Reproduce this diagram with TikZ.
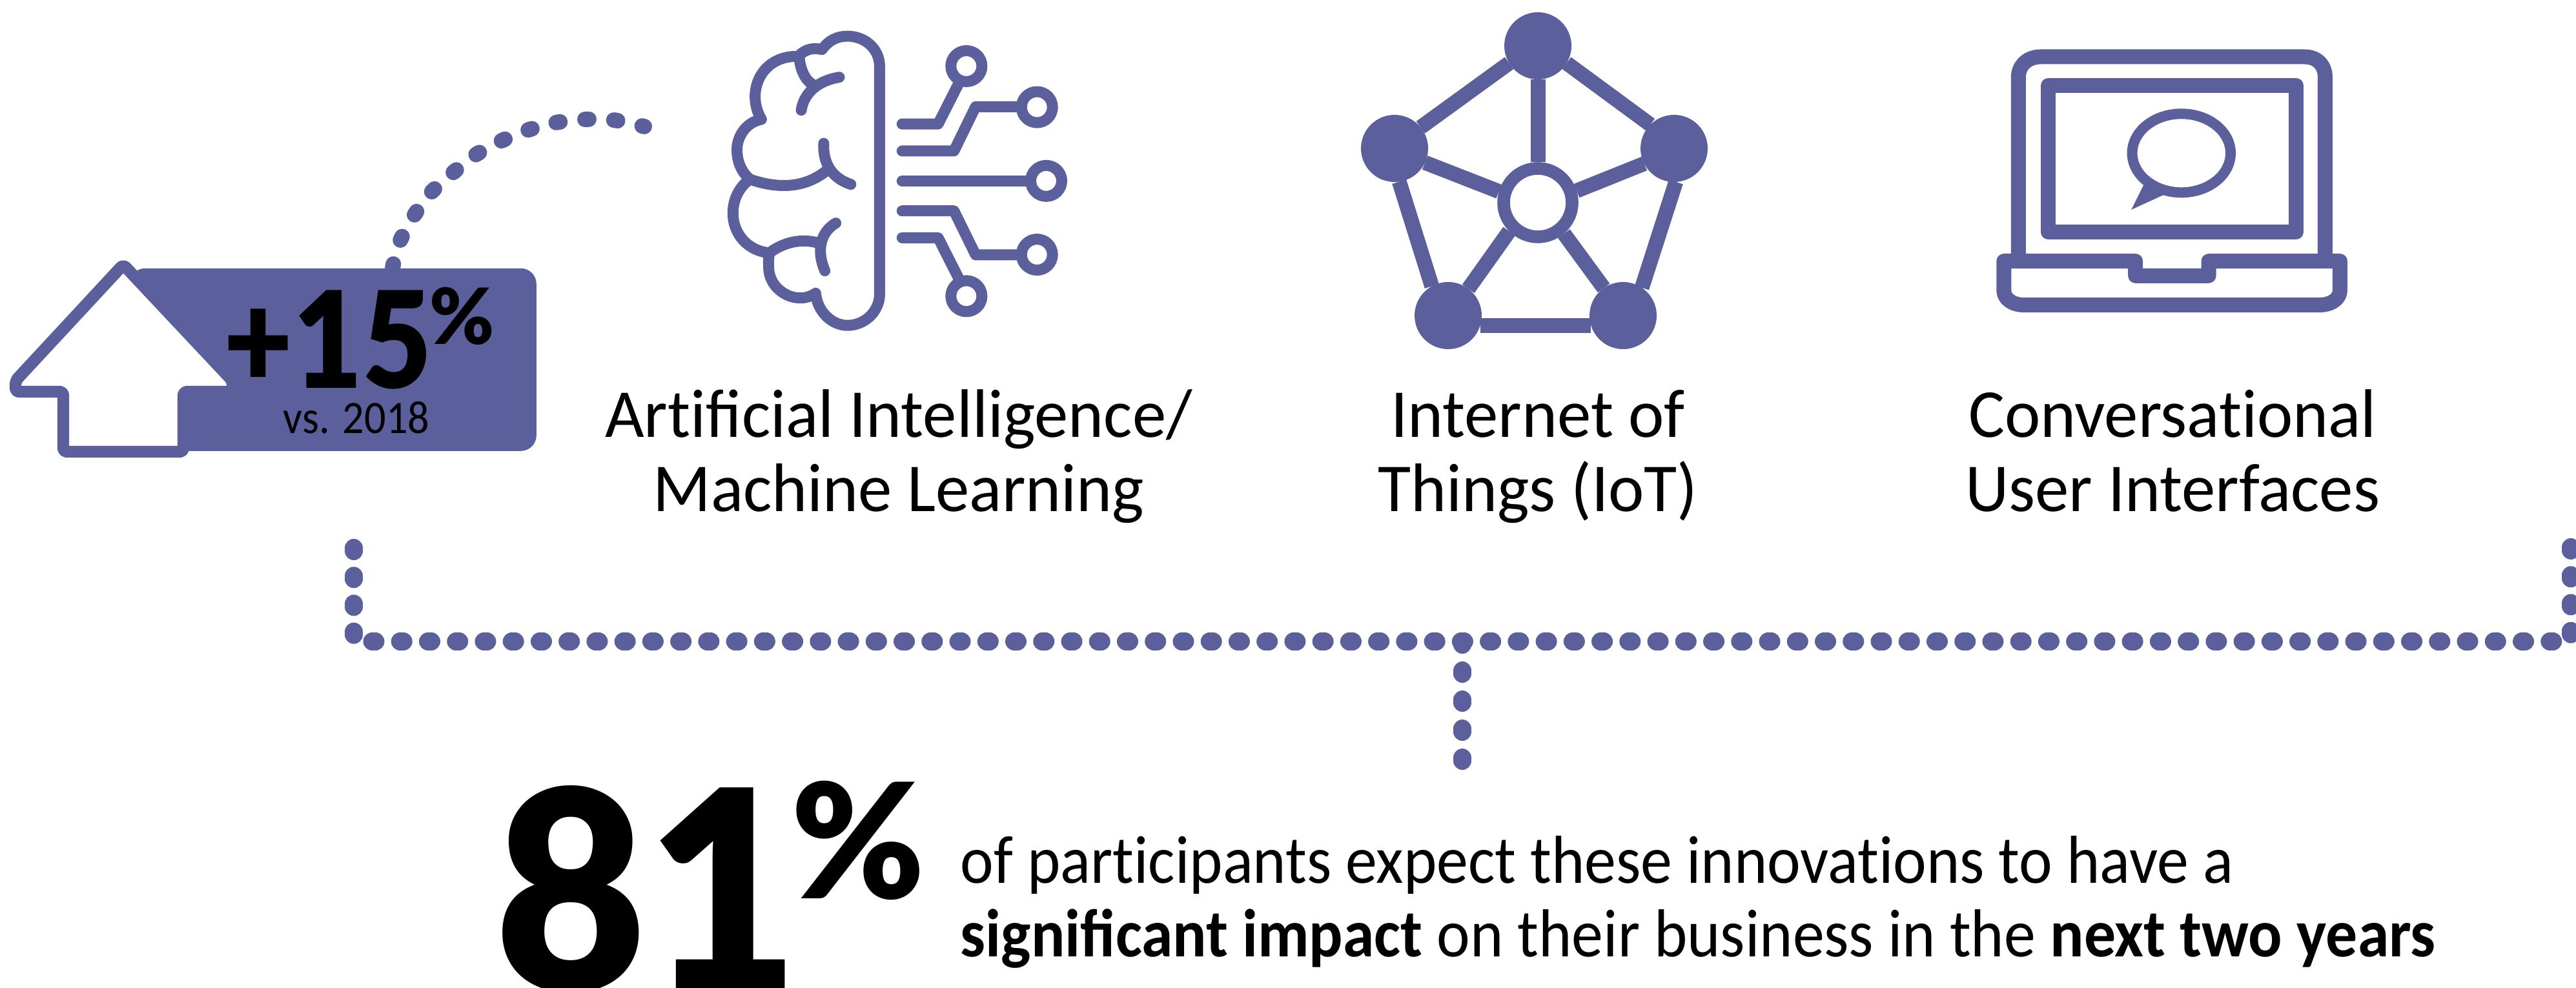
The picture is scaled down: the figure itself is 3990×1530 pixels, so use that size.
\documentclass[tikz,border=0pt]{standalone}
\usepackage{fontspec}
\setmainfont{Carlito}
\newfontfamily\labelfont[FakeStretch=0.985]{Carlito}
\newfontfamily\bodyfont[FakeStretch=0.93]{Carlito}
\newfontfamily\smallfont[FakeStretch=0.92]{Carlito}
\newfontfamily\latoblack{Lato Black}
\newfontfamily\latoblacknarrow[FakeStretch=0.89]{Lato Black}
\newfontfamily\latoblackbig[FakeStretch=0.94]{Lato Black}
\newcommand{\tiplain}{t\kern0pt i}
\definecolor{iris}{HTML}{5B5F9B}
\tikzset{
  iconline/.style={draw=iris,line width=4.25pt,line cap=round,line join=round},
  wire/.style={iconline},
  pin/.style={draw=iris,line width=4.25pt,fill=white},
  dotrow/.style={draw=iris,line width=7pt,line cap=round,dash pattern=on 1.25pt off 9.56pt},
  dotstem/.style={draw=iris,line width=7pt,line cap=round,dash pattern=on 1.25pt off 10pt},
  dotarc/.style={draw=iris,line width=6pt,line cap=round,dash pattern=on 1.5pt off 9.7pt},
  hub/.style={circle,fill=iris,minimum size=26pt,inner sep=0pt,outer sep=0pt},
  core/.style={circle,draw=iris,fill=white,line width=4.9pt,minimum size=26.5pt,inner sep=0pt},
  spoke/.style={draw=iris,line width=5.75pt},
  lapline/.style={draw=iris,line width=5.75pt,line join=round},
  label/.style={font=\labelfont\fontsize{26.6}{28.75}\selectfont,align=center,inner sep=0pt,anchor=base},
  bodytext/.style={font=\bodyfont\fontsize{26.3}{28.5}\selectfont,align=left,inner sep=0pt,anchor=base west},
}
\begin{document}
\begin{tikzpicture}[x=0.25pt,y=-0.25pt]
\useasboundingbox (0,0) rectangle (3990,1530);
\clip (0,0) rectangle (3990,1530);

% dotted arc into the box
\coordinate (arcstart) at (608,415);
\coordinate (arcend) at (998,196);
\draw[dotarc] plot[smooth] coordinates {(arcstart) (618,377) (640,336) (666,300) (700,269) (735,241) (775,219) (816,202) (861,190) (906,185) (950,186) (arcend)};

% badge and arrow
\node[fill=iris,rounded corners=6pt,minimum width=157.5pt,minimum height=70.75pt,inner sep=0pt,anchor=north west] (badge) at (200,415) {};
\draw[draw=iris,fill=white,line width=4.6pt,line join=round,rounded corners=1.5pt]
  (191,410) -- (24,590) -- (24,607) -- (98,607) -- (98,700) -- (284,700) -- (284,607) -- (360,607) -- (360,590) -- cycle;
\node[inner sep=0pt,anchor=base west,font=\latoblacknarrow\fontsize{52}{52}\selectfont] (plus) at (346,601) {+15};
\node[inner sep=0pt,anchor=base west,font=\latoblack\fontsize{30}{30}\selectfont] (pct) at (665,533) {\%};
\node[inner sep=0pt,anchor=base,font=\smallfont\fontsize{18}{18}\selectfont] (vs) at (552,671) {vs. 2018};

% brain
\begin{scope}[shift={(1000,0)},xscale=0.4464,yscale=0.3571]
\draw[iconline] (812,1275) -- (812,290) .. controls (812,210) and (760,157) .. (700,157) .. controls (665,157) and (635,175) .. (612,215)
  .. controls (580,205) and (550,215) .. (530,245) .. controls (440,240) and (380,320) .. (380,420) .. controls (380,455) and (388,490) .. (402,518)
  .. controls (350,530) and (317,590) .. (317,650) .. controls (317,705) and (335,750) .. (362,778)
  .. controls (325,810) and (303,865) .. (303,925) .. controls (303,1015) and (355,1090) .. (430,1097)
  .. controls (425,1125) and (427,1145) .. (427,1160) .. controls (427,1235) and (480,1293) .. (537,1293) .. controls (557,1293) and (575,1285) .. (590,1272)
  .. controls (595,1350) and (645,1412) .. (700,1412) .. controls (762,1412) and (812,1350) .. (812,1275);
\draw[iconline] (533,245) .. controls (535,300) and (555,350) .. (578,365);
\draw[iconline] (672,335) .. controls (600,350) and (550,400) .. (540,478);
\draw[iconline] (618,622) .. controls (615,700) and (640,770) .. (712,800);
\draw[iconline] (362,778) .. controls (470,825) and (560,810) .. (628,740);
\draw[iconline] (660,968) .. controls (610,1005) and (590,1080) .. (622,1175);
\draw[iconline] (430,1097) .. controls (480,1050) and (540,1035) .. (595,1053);
\draw[wire] (890,538) -- (1015,538) -- (1085,365);
\draw[wire] (890,655) -- (1070,655) -- (1145,463) -- (1300,463);
\draw[wire] (890,785) -- (1330,785);
\draw[wire] (890,915) -- (1070,915) -- (1145,1106) -- (1300,1106);
\draw[wire] (890,1032) -- (1015,1032) -- (1085,1205);
\draw[pin] (1113,287) ellipse [x radius=53.8,y radius=67.2];
\draw[pin] (1358,465) ellipse [x radius=53.8,y radius=67.2];
\draw[pin] (1390,785) ellipse [x radius=53.8,y radius=67.2];
\draw[pin] (1358,1105) ellipse [x radius=53.8,y radius=67.2];
\draw[pin] (1113,1285) ellipse [x radius=53.8,y radius=67.2];
\end{scope}
\node[label] (ai) at (1392,792) {Ar\tiplain ficial Intelligence/\\Machine Learning};

% network
\node[hub] (nT) at (2382,71) {};
\node[hub] (nL) at (2160,230) {};
\node[hub] (nR) at (2593,230) {};
\node[hub] (nA) at (2243,489) {};
\node[hub] (nB) at (2514,489) {};
\node[core] (nC) at (2382,314) {};
\draw[spoke] (nT) -- (nC);
\draw[spoke] (nL.39) -- (nT.211);
\draw[spoke] (nR.135) -- (nT.-31);
\draw[spoke] (nL.-25) -- (nC.164);
\draw[spoke] (nR.207) -- (nC.17);
\draw[spoke] (nC.225) -- (nA.53);
\draw[spoke] (nC.310) -- (nB.125);
\draw[spoke] (nL.-82) -- (nA.119);
\draw[spoke] (nR.-87) -- (nB.56);
\draw[spoke] (nA.-17) -- (nB.197);
\node[label] (iot) at (2382,792) {Internet of\\Things (IoT)};

% laptop
\begin{scope}[shift={(3000,40)},xscale=0.4591,yscale=0.3333]
\draw[lapline] (275,1095) -- (275,240) .. controls (275,185) and (305,144) .. (350,144) -- (1240,144) .. controls (1285,144) and (1310,185) .. (1310,240) -- (1310,1095);
\draw[lapline] (375,279) rectangle (1212,958);
\draw[lapline] (226,1094) -- (670,1094) -- (670,1162) -- (917,1162) -- (917,1094) -- (1360,1094) -- (1360,1230) .. controls (1360,1270) and (1330,1298) .. (1290,1298) -- (295,1298) .. controls (255,1298) and (226,1270) .. (226,1230) -- cycle;
\draw[draw=iris,line width=4pt] (825,592) ellipse [x radius=166,y radius=183];
\fill[iris] (697,742) -- (656,855) -- (762,788) -- (770,745) -- (732,755) -- (718,700) -- cycle;
\end{scope}
\node[label] (cui) at (3365,792) {Conversa\tiplain onal\\User Interfaces};

% dotted bracket
\coordinate (lt) at (548,849);
\coordinate (lb) at (548,985);
\coordinate (rt) at (3982,848);
\coordinate (rb) at (3982,985);
\coordinate (hl) at (576.5,994);
\coordinate (hr) at (3956,994);
\coordinate (st) at (2265,994);
\coordinate (sb) at (2265,1180);
\draw[dotrow] (lt) -- (lb);
\draw[dotrow] (rt) -- (rb);
\draw[dotrow] (hl) -- (hr);
\draw[dotstem] (st) -- (sb);

% bottom statement
\node[inner sep=0pt,anchor=base west,font=\latoblackbig\fontsize{108}{108}\selectfont] (big) at (766,1535) {81};
\node[inner sep=0pt,anchor=base west,font=\latoblack\fontsize{62}{62}\selectfont] (bigpct) at (1225,1392) {\%};
\node[bodytext] (msg) at (1487,1482) {of par\tiplain cipants expect these innova\tiplain ons to have a\\\textbf{significant impact} on their business in the \textbf{next two years}};
\end{tikzpicture}
\end{document}
